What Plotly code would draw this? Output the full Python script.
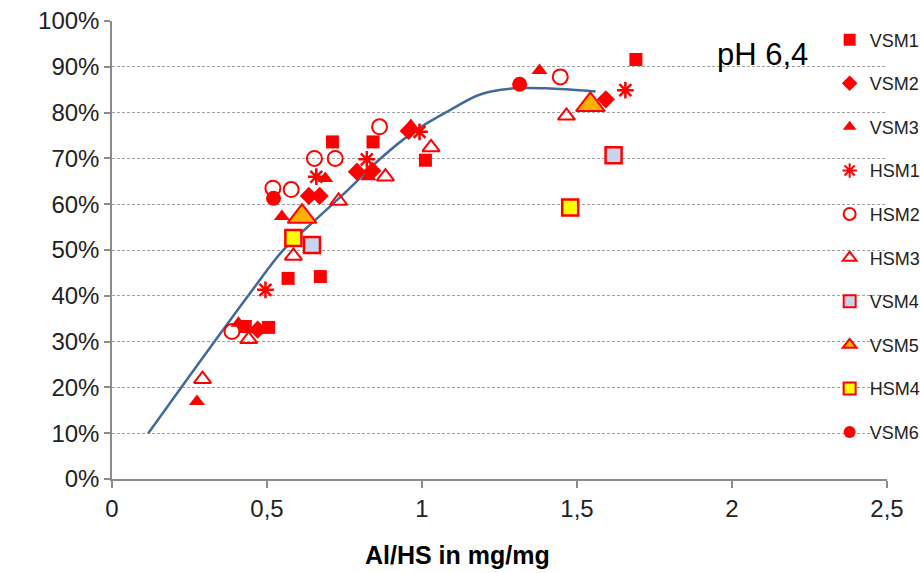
import plotly.graph_objects as go

# ---- data ----
vsm1_x = [0.43, 0.505, 0.568, 0.672, 0.711, 0.842, 1.011, 1.69]
vsm1_y = [0.333, 0.331, 0.438, 0.442, 0.736, 0.736, 0.696, 0.916]

vsm2_x = [0.47, 0.635, 0.67, 0.79, 0.84, 0.957, 1.593]
vsm2_y = [0.326, 0.618, 0.618, 0.671, 0.673, 0.760, 0.829]

vsm3_x = [0.274, 0.408, 0.548, 0.688, 0.827, 0.964, 1.379]
vsm3_y = [0.169, 0.340, 0.573, 0.656, 0.660, 0.772, 0.892]

hsm1_x = [0.495, 0.659, 0.822, 0.992, 1.656]
hsm1_y = [0.413, 0.660, 0.698, 0.758, 0.849]

hsm2_x = [0.387, 0.519, 0.578, 0.653, 0.72, 0.863, 1.446]
hsm2_y = [0.322, 0.635, 0.632, 0.700, 0.700, 0.769, 0.878]

hsm3_x = [0.292, 0.441, 0.585, 0.731, 0.882, 1.029, 1.466]
hsm3_y = [0.218, 0.305, 0.487, 0.607, 0.660, 0.724, 0.793]

vsm4_x = [0.645, 1.618]
vsm4_y = [0.511, 0.707]

vsm5_x = [0.613, 1.543]
vsm5_y = [0.573, 0.817]

hsm4_x = [0.585, 1.478]
hsm4_y = [0.526, 0.593]

vsm6_x = [0.521, 1.315]
vsm6_y = [0.613, 0.862]

curve_x = [0.117, 0.25, 0.35, 0.45, 0.55, 0.65, 0.75, 0.87, 0.975, 1.084, 1.19, 1.3, 1.4, 1.56]
curve_y = [0.10, 0.225, 0.318, 0.41, 0.498, 0.562, 0.624, 0.702, 0.759, 0.803, 0.840, 0.853, 0.853, 0.846]

x_ticks = [0, 0.5, 1, 1.5, 2, 2.5]
x_tick_labels = ["0", "0,5", "1", "1,5", "2", "2,5"]
y_ticks = [0, 0.1, 0.2, 0.3, 0.4, 0.5, 0.6, 0.7, 0.8, 0.9, 1.0]
y_tick_labels = ["0%", "10%", "20%", "30%", "40%", "50%", "60%", "70%", "80%", "90%", "100%"]

RED = "#FF0000"
FONT = "Liberation Sans, Arial, sans-serif"

fig = go.Figure()

fig.add_trace(go.Scatter(x=curve_x, y=curve_y, mode="lines",
                         line=dict(color="#41699A", width=2.5, shape="spline"),
                         showlegend=False, hoverinfo="skip"))

series = [
    ("VSM1", vsm1_x, vsm1_y, dict(symbol="square", size=13, color=RED)),
    ("VSM2", vsm2_x, vsm2_y, dict(symbol="diamond", size=14, color=RED)),
    ("VSM3", vsm3_x, vsm3_y, dict(symbol="triangle-up", size=14, color=RED)),
    ("HSM1", hsm1_x, hsm1_y, dict(symbol="asterisk-open", size=14, color=RED, line=dict(color=RED, width=2.5))),
    ("HSM2", hsm2_x, hsm2_y, dict(symbol="circle-open", size=15, color=RED, line=dict(color=RED, width=2))),
    ("HSM3", hsm3_x, hsm3_y, dict(symbol="triangle-up-open", size=15, color=RED, line=dict(color=RED, width=2))),
    ("VSM4", vsm4_x, vsm4_y, dict(symbol="square", size=16, color="#C6D4EC", line=dict(color=RED, width=2.5))),
    ("VSM5", vsm5_x, vsm5_y, dict(symbol="triangle-up", size=25, color="#FFB000", line=dict(color=RED, width=2))),
    ("HSM4", hsm4_x, hsm4_y, dict(symbol="square", size=16, color="#FFFF00", line=dict(color=RED, width=2.5))),
    ("VSM6", vsm6_x, vsm6_y, dict(symbol="circle", size=15, color=RED)),
]
for name, xs, ys, mk in series:
    fig.add_trace(go.Scatter(x=xs, y=ys, mode="markers", name=name, marker=mk,
                             legendgroup=name))

fig.update_layout(
    width=920, height=573,
    margin=dict(l=112, r=33, t=21, b=94, autoexpand=False),
    paper_bgcolor="white", plot_bgcolor="white",
    font=dict(family=FONT, color="#222222"),
    showlegend=True,
    legend=dict(x=0.926, y=0.999, xanchor="left", yanchor="top", maxheight=560,
                bgcolor="rgba(0,0,0,0)", font=dict(size=18, family=FONT, color="#222222"),
                itemsizing="constant", tracegroupgap=17.2, traceorder="grouped"),
    xaxis=dict(range=[0, 2.5], tickvals=x_ticks, ticktext=x_tick_labels,
               showgrid=False, zeroline=False, showline=True, linecolor="#8C8C8C", linewidth=1.5,
               ticks="outside", ticklen=7, tickcolor="#8C8C8C", tickwidth=1.5,
               tickfont=dict(size=24, family=FONT, color="#222222")),
    yaxis=dict(range=[0, 1], tickvals=y_ticks, ticktext=y_tick_labels,
               showgrid=True, gridcolor="#A0A0A0", griddash="3px,2px", gridwidth=1,
               zeroline=False, showline=True, linecolor="#8C8C8C", linewidth=1.5,
               ticks="outside", ticklen=6, tickcolor="#8C8C8C", tickwidth=1.5,
               tickfont=dict(size=24, family=FONT, color="#222222")),
    annotations=[
        dict(text="pH 6,4", x=0.839, y=0.926, xref="paper", yref="paper",
             xanchor="center", yanchor="middle",
             showarrow=False, font=dict(size=31, family=FONT, color="black")),
        dict(text="<b>Al/HS in mg/mg</b>", x=0.446, y=-0.166, xref="paper", yref="paper",
             xanchor="center", yanchor="middle",
             showarrow=False, font=dict(size=25, family=FONT, color="black")),
    ],
)

fig.write_html("out.html")
